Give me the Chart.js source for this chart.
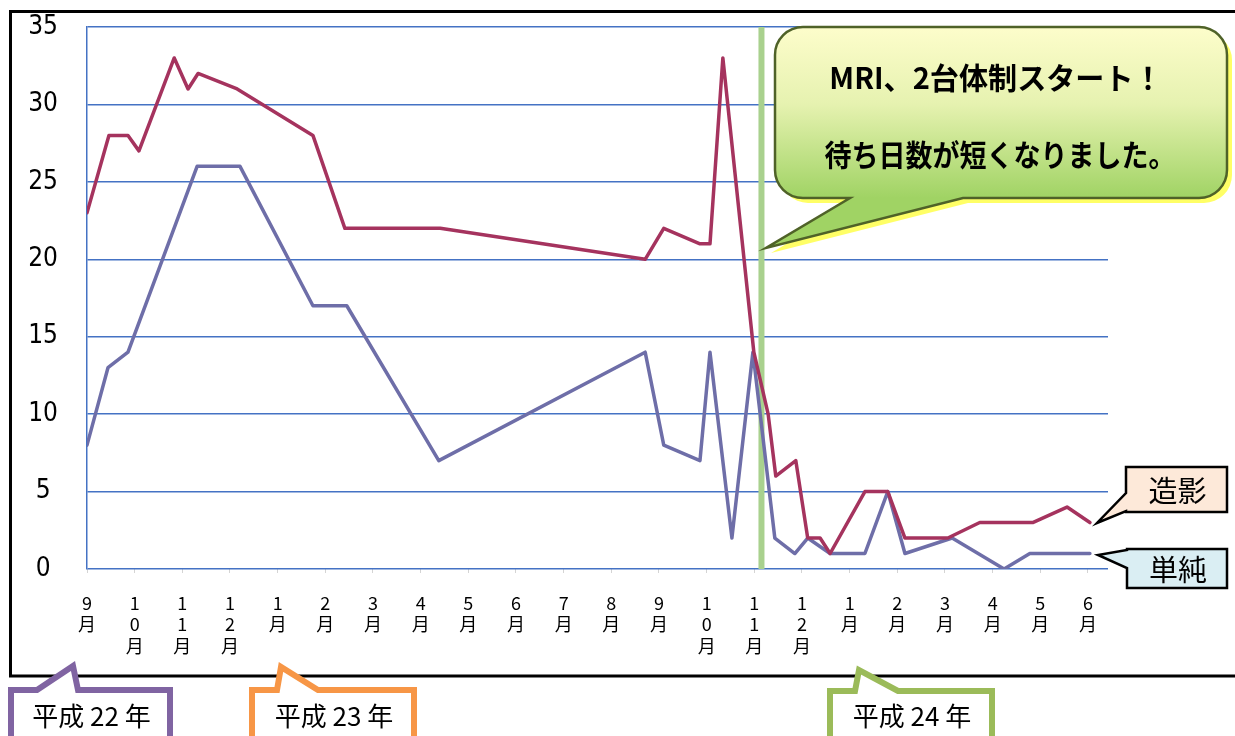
<!DOCTYPE html>
<html><head><meta charset="utf-8">
<script src="https://cdn.jsdelivr.net/npm/chart.js@4.4.1/dist/chart.umd.min.js"></script>
<style>
html,body{margin:0;padding:0;background:#fff;overflow:hidden}
#wrap{position:relative;width:1235px;height:736px}
canvas{display:block}
</style></head><body>
<div id="wrap"><canvas id="c" width="1235" height="736"></canvas></div>
<script>
// ---- data ----
const monthLabels = ['9月','10月','11月','12月','1月','2月','3月','4月','5月','6月','7月','8月','9月','10月','11月','12月','1月','2月','3月','4月','5月','6月'];
// position along the month axis (0 = 平成22年9月) and waiting days
const contrastPos  = [0, 0.46, 0.86, 1.09, 1.83, 2.12, 2.33, 3.15, 4.74, 5.41, 7.41, 11.71, 12.10, 12.86, 13.07, 13.34, 13.99, 14.29, 14.45, 14.87, 15.12, 15.38, 15.59, 16.32, 16.80, 17.16, 18.06, 18.73, 19.84, 20.56, 21.04];
const contrastDays = [23, 28, 28, 27, 33, 31, 32, 31, 28, 22, 22, 20, 22, 21, 21, 33, 14, 10, 6, 7, 2, 2, 1, 5, 5, 2, 2, 3, 3, 4, 3];
const plainPos  = [0, 0.44, 0.86, 2.31, 3.21, 4.74, 5.45, 7.38, 11.71, 12.10, 12.86, 13.07, 13.53, 13.97, 14.43, 14.85, 15.12, 15.59, 16.32, 16.80, 17.16, 18.15, 19.24, 19.78, 21.04];
const plainDays = [8, 13, 14, 26, 26, 17, 17, 7, 14, 8, 7, 14, 2, 14, 2, 1, 2, 1, 1, 5, 1, 2, 0, 1, 1];
const seriesNames = ['造影', '単純'];
const mriStart = 14.15;
const calloutLines = ['MRI、2台体制スタート！', '待ち日数が短くなりました。'];
const yearLabels = ['平成 22 年', '平成 23 年', '平成 24 年'];

const JP = '"Noto Sans CJK JP", "Noto Sans", sans-serif';

function roundRectTail(ctx, L, T, R, B, r, b1, tx, ty, b2) {
  ctx.beginPath();
  ctx.moveTo(L + r, T);
  ctx.lineTo(R - r, T);
  ctx.arcTo(R, T, R, T + r, r);
  ctx.lineTo(R, B - r);
  ctx.arcTo(R, B, R - r, B, r);
  ctx.lineTo(b1, B);
  ctx.lineTo(tx, ty);
  ctx.lineTo(b2, B);
  ctx.lineTo(L + r, B);
  ctx.arcTo(L, B, L, B - r, r);
  ctx.lineTo(L, T + r);
  ctx.arcTo(L, T, L + r, T, r);
  ctx.closePath();
}
function squeezedText(ctx, text, cx, cy, sx) {
  ctx.save();
  ctx.translate(cx, cy);
  ctx.scale(sx, 1);
  ctx.fillText(text, 0, 0);
  ctx.restore();
}
function legendBox(ctx, L, T, R, B, t1, tx, ty, t2, fill, text) {
  ctx.beginPath();
  ctx.moveTo(L, T); ctx.lineTo(R, T); ctx.lineTo(R, B); ctx.lineTo(L, B);
  ctx.lineTo(L, t2); ctx.lineTo(tx, ty); ctx.lineTo(L, t1);
  ctx.closePath();
  ctx.fillStyle = fill; ctx.fill();
  ctx.lineWidth = 2.5; ctx.strokeStyle = '#000'; ctx.lineJoin = 'miter'; ctx.stroke();
  ctx.fillStyle = '#000';
  ctx.font = '29px ' + JP;
  ctx.textAlign = 'center'; ctx.textBaseline = 'middle';
  ctx.fillText(text, (L + R) / 2 + 1, (T + B) / 2 + 1);
}
function yearBox(ctx, L, R, T, b1, tx, ty, b2, color, text) {
  ctx.beginPath();
  ctx.moveTo(L, 760); ctx.lineTo(L, T); ctx.lineTo(b1, T); ctx.lineTo(tx, ty);
  ctx.lineTo(b2, T); ctx.lineTo(R, T); ctx.lineTo(R, 760);
  ctx.closePath();
  ctx.fillStyle = '#fff'; ctx.fill();
  ctx.lineWidth = 6; ctx.strokeStyle = color; ctx.lineJoin = 'miter'; ctx.stroke();
  ctx.fillStyle = '#000';
  ctx.font = '26px ' + JP;
  ctx.textAlign = 'center'; ctx.textBaseline = 'middle';
  ctx.fillText(text, (L + R) / 2 + 1, 716);
}

const decorations = {
  id: 'decorations',
  beforeDraw(chart) {
    const ctx = chart.ctx;
    ctx.save();
    ctx.fillStyle = '#fff';
    ctx.fillRect(0, 0, chart.width, chart.height);
    ctx.strokeStyle = '#000';
    ctx.lineWidth = 3;
    ctx.beginPath();
    ctx.moveTo(1240, 11.5); ctx.lineTo(10.5, 11.5); ctx.lineTo(10.5, 676); ctx.lineTo(1240, 676);
    ctx.stroke();
    ctx.restore();
  },
  beforeDatasetsDraw(chart) {
    const {ctx, chartArea, scales} = chart;
    const x = scales.x.getPixelForValue(mriStart);
    ctx.save();
    ctx.fillStyle = '#A9D18E';
    ctx.fillRect(x - 3, chartArea.top, 6, chartArea.bottom - chartArea.top);
    ctx.restore();
  },
  afterDraw(chart) {
    const ctx = chart.ctx;
    ctx.save();
    // main callout: shadow
    ctx.save();
    ctx.translate(5, 5);
    roundRectTail(ctx, 775, 27, 1227, 198, 28, 963, 766, 248, 850);
    ctx.fillStyle = '#FFFF66';
    ctx.fill();
    ctx.restore();
    roundRectTail(ctx, 775, 27, 1227, 198, 28, 963, 766, 248, 850);
    const g = ctx.createLinearGradient(0, 27, 0, 198);
    g.addColorStop(0, '#FDFDCB');
    g.addColorStop(0.45, '#E6F2B0');
    g.addColorStop(1, '#A0D364');
    ctx.fillStyle = g;
    ctx.fill();
    ctx.lineWidth = 2.5;
    ctx.strokeStyle = '#4F6228';
    ctx.lineJoin = 'miter';
    ctx.stroke();
    ctx.fillStyle = '#000';
    ctx.font = 'bold 30px ' + JP;
    ctx.textAlign = 'center';
    ctx.textBaseline = 'middle';
    squeezedText(ctx, calloutLines[0], 996, 78, 0.97);
    squeezedText(ctx, calloutLines[1], 1000, 155, 0.9);

    // series labels
    legendBox(ctx, 1126, 467, 1227, 512, 493, 1097, 523, 511, '#FDE9D9', seriesNames[0]);
    legendBox(ctx, 1127, 549, 1227, 588, 550, 1098, 555, 568, '#DAEEF3', seriesNames[1]);

    // year boxes
    yearBox(ctx, 11, 170, 690, 37, 73, 666, 78, '#8064A2', yearLabels[0]);
    yearBox(ctx, 252, 414, 690, 277, 281, 667, 318, '#F79646', yearLabels[1]);
    yearBox(ctx, 830, 992, 691, 855, 859, 670, 898, '#9BBB59', yearLabels[2]);
    ctx.restore();
  }
};

const toPts = (pos, vals) => pos.map((x, i) => ({x: x, y: vals[i]}));

new Chart(document.getElementById('c'), {
  type: 'line',
  data: {
    datasets: [
      { label: seriesNames[0], data: toPts(contrastPos, contrastDays), borderColor: '#A5335E', borderWidth: 3.5, pointRadius: 0, tension: 0, fill: false, borderJoinStyle: 'round', borderCapStyle: 'round' },
      { label: seriesNames[1], data: toPts(plainPos, plainDays), borderColor: '#6E6EA8', borderWidth: 3.5, pointRadius: 0, tension: 0, fill: false, borderJoinStyle: 'round', borderCapStyle: 'round' }
    ]
  },
  options: {
    responsive: false,
    animation: false,
    devicePixelRatio: 1,
    layout: { padding: { left: 0, right: 127, top: 27, bottom: 0 } },
    plugins: { legend: { display: false }, tooltip: { enabled: false } },
    scales: {
      x: {
        type: 'linear',
        min: 0,
        max: 21.42,
        afterFit(scale) { scale.height = 167; },
        grid: { display: true, drawOnChartArea: false, drawTicks: true, tickLength: 4, color: '#d4d4d4', lineWidth: 1 },
        border: { display: false },
        ticks: {
          stepSize: 1,
          includeBounds: false,
          autoSkip: false,
          maxRotation: 0,
          minRotation: 0,
          padding: 19,
          color: '#000',
          font: { family: JP, size: 18, lineHeight: 1.2 },
          callback: (v) => (Number.isInteger(v) && monthLabels[v]) ? monthLabels[v].split('') : ''
        }
      },
      y: {
        min: 0,
        max: 35,
        afterFit(scale) { scale.width = 87; scale.paddingTop = 0; scale.paddingBottom = 0; },
        grid: { color: '#4472C4', lineWidth: 1.5, drawTicks: false },
        border: { display: true, color: '#4472C4', width: 1.5 },
        ticks: {
          stepSize: 5,
          padding: 29,
          crossAlign: 'center',
          color: '#000',
          font: { family: '"Liberation Sans Narrow", "DejaVu Sans Condensed", "Liberation Sans", sans-serif', size: 26 }
        }
      }
    }
  },
  plugins: [decorations]
});
</script>
</body></html>
